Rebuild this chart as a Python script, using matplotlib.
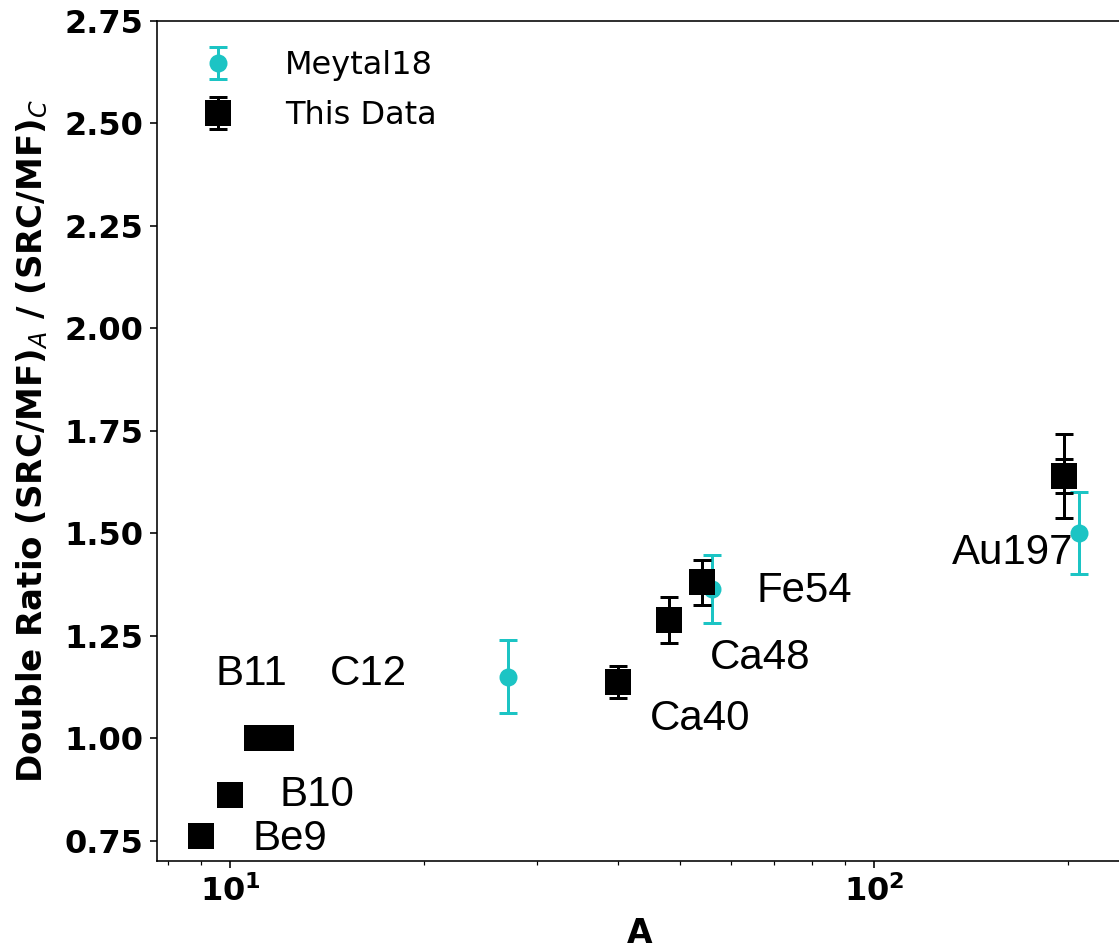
import matplotlib.pyplot as plt

# Meytal18 points
meytal_A = [27, 56, 208]
meytal_ratio = [1.15, 1.365, 1.50]
meytal_err = [0.09, 0.083, 0.10]

# this data
nuclei = ['Be9', 'B10', 'B11', 'C12', 'Ca40', 'Ca48', 'Fe54', 'Au197']
this_A = [9, 10, 11, 12, 40, 48, 54, 197]
this_ratio = [0.76, 0.86, 1.0, 1.0, 1.137, 1.288, 1.38, 1.639]
this_err = [0, 0, 0, 0, 0.04, 0.057, 0.055, 0.102]
au_stat_err = 0.042

# where the nucleus names sit (data coords, text baseline)
label_x = [10.82, 11.93, 9.48, 14.3, 44.9, 55.6, 65.7, 132]
label_y = [0.727, 0.835, 1.129, 1.129, 1.020, 1.168, 1.331, 1.424]

fig = plt.figure(figsize=(1119/144, 952/144), dpi=144)
ax = fig.add_axes([157/1119, 91/952, (1122.6-157)/1119, (931-91)/952])

cyan = '#1cc4c4'
ax.errorbar(meytal_A, meytal_ratio, yerr=meytal_err, fmt='o', color=cyan, ms=8,
            capsize=4.5, elinewidth=1.5, capthick=1.5, label='Meytal18')
ax.errorbar(this_A, this_ratio, yerr=this_err, fmt='s', color='k', ms=12,
            capsize=4.5, elinewidth=1.5, capthick=1.5, label='This Data')
ax.errorbar(this_A[-1:], this_ratio[-1:], yerr=au_stat_err, fmt='none', ecolor='k',
            capsize=4.5, elinewidth=1.5, capthick=1.5)

for name, lx, ly in zip(nuclei, label_x, label_y):
  ax.text(lx, ly, name, fontsize=21, family='Liberation Sans', ha='left', va='baseline')

ax.set_xscale('log')
ax.set_xlim(7.7, 243)
ax.set_ylim(0.70, 2.75)
ax.set_yticks([0.75, 1.0, 1.25, 1.5, 1.75, 2.0, 2.25, 2.5, 2.75])
ax.tick_params(labelsize=16)
for t in ax.get_xticklabels() + ax.get_yticklabels():
  t.set_fontweight('bold')

ax.set_xlabel('A', fontsize=16.5, fontweight='bold', labelpad=4.5)
ax.set_ylabel('Double Ratio (SRC/MF)$_A$ / (SRC/MF)$_C$', fontsize=17, fontweight='bold', labelpad=7)
ax.legend(loc='upper left', frameon=False, fontsize=16, labelspacing=0.6, handletextpad=1.1)

fig.savefig('out.png', dpi=144)
